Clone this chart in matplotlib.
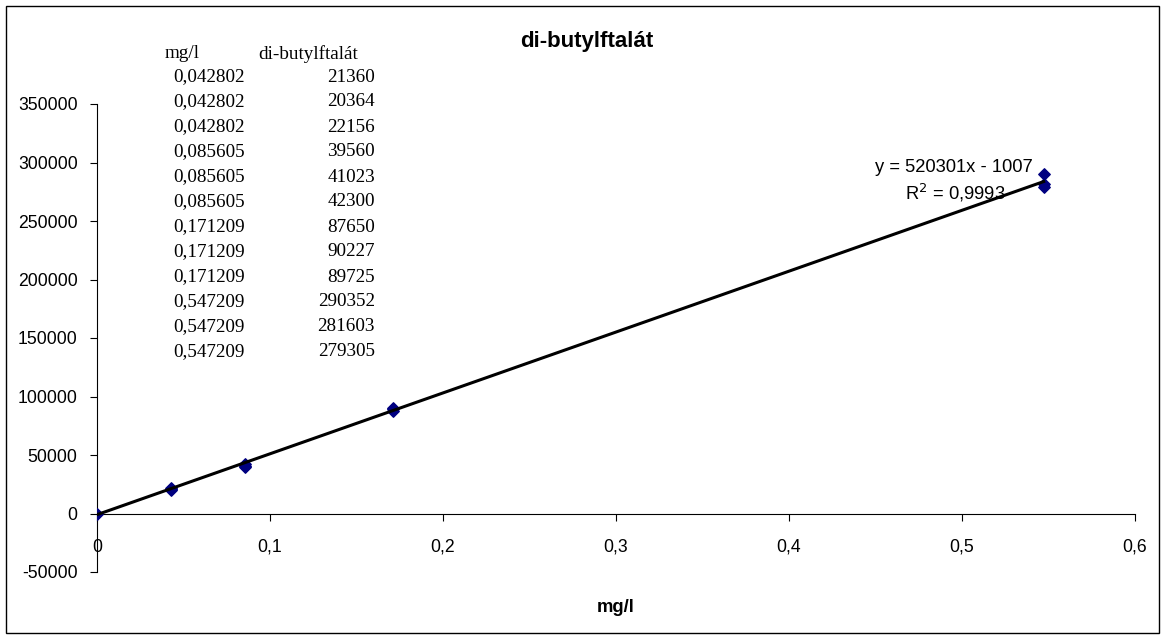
import matplotlib.pyplot as plt
from matplotlib.patches import Rectangle
from matplotlib.ticker import FuncFormatter

# calibration data, mg/l vs. peak area
conc = [0.042802, 0.042802, 0.042802, 0.085605, 0.085605, 0.085605,
        0.171209, 0.171209, 0.171209, 0.547209, 0.547209, 0.547209]
signal = [21360, 20364, 22156, 39560, 41023, 42300,
          87650, 90227, 89725, 290352, 281603, 279305]
conc_text = ['0,042802', '0,042802', '0,042802', '0,085605', '0,085605', '0,085605',
             '0,171209', '0,171209', '0,171209', '0,547209', '0,547209', '0,547209']
blank_x = [0.0]
blank_y = [0]
slope = 520301
intercept = -1007
r2_text = '0,9993'

plt.rcParams['font.family'] = ['Liberation Sans', 'DejaVu Sans']

W, H = 1167, 639
fig = plt.figure(figsize=(W / 100, H / 100), dpi=100)
ax = fig.add_axes([97 / W, 1 - 572 / H, 1038 / W, 468 / H])

xs = blank_x + conc
ys = blank_y + signal
ax.scatter(xs, ys, marker='D', s=34, color='#000080', zorder=3)

x_end = max(conc)
ax.plot([0, x_end], [intercept, slope * x_end + intercept], color='black', lw=2.2, zorder=4)

ax.set_xlim(0, 0.6)
ax.set_ylim(-50000, 350000)
ax.set_xticks([0, 0.1, 0.2, 0.3, 0.4, 0.5, 0.6])
ax.set_yticks(range(-50000, 350001, 50000))
ax.xaxis.set_major_formatter(FuncFormatter(lambda v, p: ('%g' % round(v, 1)).replace('.', ',')))
ax.yaxis.set_major_formatter(FuncFormatter(lambda v, p: '%d' % v))

ax.spines['top'].set_visible(False)
ax.spines['right'].set_visible(False)
ax.spines['bottom'].set_position(('data', 0))
ax.spines['left'].set_position(('data', 0))
for side in ['left', 'bottom']:
    ax.spines[side].set_color('black')
    ax.spines[side].set_linewidth(0.8)
ax.tick_params(axis='both', direction='out', length=5, width=0.8, labelsize=12.7)
ax.tick_params(axis='x', pad=13)
ax.tick_params(axis='y', pad=9)

fig.text(587 / W, 1 - 41 / H, 'di-butylftalát', fontsize=16, fontweight='bold',
         ha='center', va='center')
fig.text(616 / W, 1 - 607 / H, 'mg/l', fontsize=13.3, fontweight='bold',
         ha='center', va='center')

# data table pasted on the chart
serif = ['Liberation Serif', 'DejaVu Serif']
fig.text(165 / W, 1 - 54 / H, 'mg/l', family=serif, fontsize=13.8, va='center')
fig.text(258 / W, 1 - 54 / H, 'di-butylftalát', family=serif, fontsize=13.8, va='center')
for i, (ct, sv) in enumerate(zip(conc_text, signal)):
    yy = 1 - (77 + 25 * i) / H
    fig.text(173 / W, yy, ct, family=serif, fontsize=13.8, va='center')
    fig.text(375 / W, yy, str(sv), family=serif, fontsize=13.8, va='center', ha='right')

# trendline label
fig.text(1033 / W, 1 - 168 / H, 'y = %dx - %d' % (slope, -intercept),
         fontsize=13.2, ha='right', va='center')
fig.text(1005 / W, 1 - 193 / H, 'R$^2$ = ' + r2_text,
         fontsize=13.2, ha='right', va='center')

fig.patches.append(Rectangle((6 / W, 6 / H), 1153 / W, 627 / H,
                             transform=fig.transFigure, fill=False,
                             edgecolor='black', lw=1))

fig.savefig('out.png', dpi=100)
